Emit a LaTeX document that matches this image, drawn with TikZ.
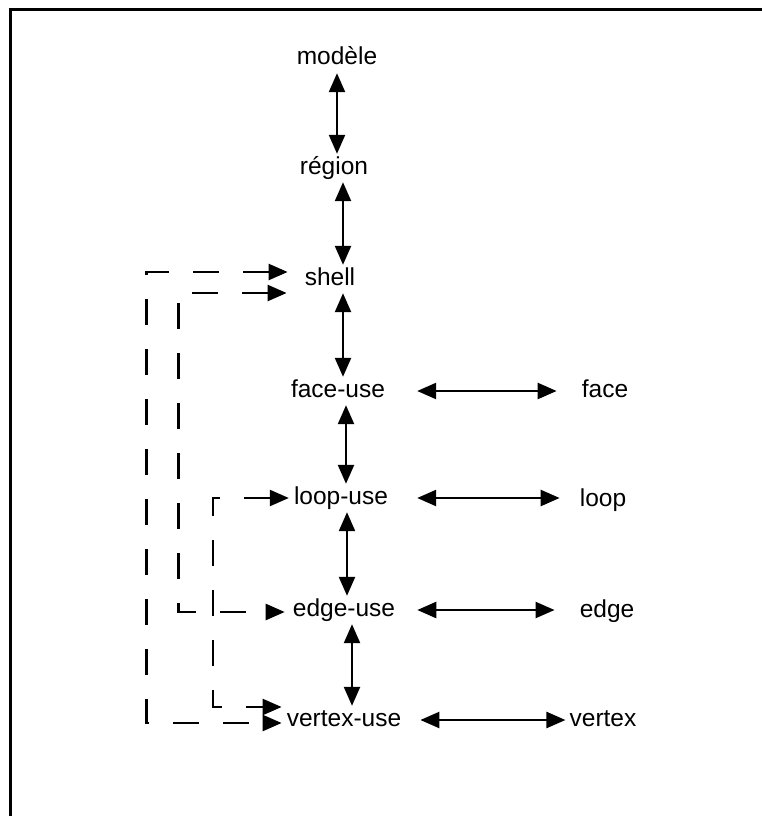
\documentclass[tikz,border=0pt]{standalone}
\usepackage{fontspec}
\setmainfont{Liberation Sans}
\usetikzlibrary{arrows.meta}
\begin{document}
\begin{tikzpicture}[x=1pt,y=-1pt,
  lbl/.style={font=\fontsize{24.5}{27}\selectfont, text height=17pt, text depth=5pt, inner xsep=4pt, inner ysep=3pt, anchor=base},
  biarrow/.style={line width=2.4pt, {Triangle[length=19pt,width=16pt]}-{Triangle[length=19pt,width=16pt]}},
  dasharrow/.style={biarrow, dash pattern=on 26pt off 24pt}]
\useasboundingbox (0,0) rectangle (762,816);
\draw [line width=3pt] (10,816) -- (10,10) -- (762,10);
\node[lbl] (modele) at (337,65) {modèle};
\node[lbl] (region) at (334,174) {région};
\node[lbl] (shell) at (330,285) {shell};
\node[lbl] (fu) at (338,397) {face-use};
\node[lbl] (lu) at (341,504) {loop-use};
\node[lbl] (eu) at (344,616) {edge-use};
\node[lbl] (vu) at (344,726) {vertex-use};
\node[lbl] (f) at (605,397) {face};
\node[lbl] (l) at (603,506) {loop};
\node[lbl] (e) at (607,617) {edge};
\node[lbl] (v) at (603,726) {vertex};
\draw [biarrow] (modele.south) -- (modele.south |- region.north);
\draw [biarrow] ([xshift=9pt]region.south) -- ([xshift=9pt]region.south |- shell.north);
\draw [biarrow] ([xshift=13pt]shell.south) -- ([xshift=13pt]shell.south |- fu.north);
\draw [biarrow] ([xshift=8pt]fu.south) -- ([xshift=8pt]fu.south |- lu.north);
\draw [biarrow] ([xshift=6pt]lu.south) -- ([xshift=6pt]lu.south |- eu.north);
\draw [biarrow] ([xshift=8pt]eu.south) -- ([xshift=8pt]eu.south |- vu.north);
\draw [biarrow, shorten <=28pt, shorten >=21pt] (fu.east) -- (fu.east -| f.west);
\draw [biarrow, shorten <=25pt, shorten >=16pt] (lu.east) -- (lu.east -| l.west);
\draw [biarrow, shorten <=18pt, shorten >=21pt] (eu.east) -- (eu.east -| e.west);
\draw [biarrow, shorten <=15pt] (vu.east) -- (vu.east -| v.west);
\draw [dasharrow, shorten <=13pt, shorten >=1pt] ([yshift=7pt]shell.west) -- ++(-154,0) |- ([yshift=-3pt]vu.west);
\draw [dasharrow, shorten <=14pt, shorten >=4pt] ([yshift=-14pt]shell.west) -- ++(-122,0) |- ([yshift=-2pt]eu.west);
\draw [dasharrow, shorten <=1pt, shorten >=1pt] (lu.west) -- ++(-77,0) |- ([yshift=13pt]vu.west);
\end{tikzpicture}
\end{document}
